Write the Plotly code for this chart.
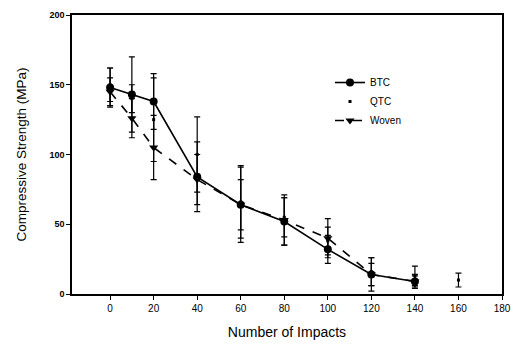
import plotly.graph_objects as go

impacts = [0, 10, 20, 40, 60, 80, 100, 120, 140]
btc = [148, 143, 138, 84, 64, 52, 32, 14, 9]
btc_err = [14, 27, 20, 25, 18, 17, 10, 8, 4]

qtc_x = [0, 10, 20, 40, 60, 80, 100, 120, 140, 160]
qtc = [150, 140, 125, 100, 66, 55, 38, 16, 13, 10]
qtc_err = [12, 10, 30, 27, 26, 14, 10, 10, 7, 5]

woven = [145, 126, 105, 82, 64, 53, 40, 14, 9]
woven_err = [10, 14, 23, 18, 27, 18, 14, 12, 5]

font = "Liberation Sans, Arial, sans-serif"

fig = go.Figure()
fig.add_trace(go.Scatter(
    x=impacts, y=btc, name="BTC", mode="lines+markers",
    line=dict(color="black", width=1.6),
    marker=dict(symbol="circle", size=8, color="black"),
    error_y=dict(type="data", array=btc_err, color="black", thickness=1.2, width=3),
))
fig.add_trace(go.Scatter(
    x=qtc_x, y=qtc, name="QTC", mode="markers",
    marker=dict(symbol="square", size=3, color="black"),
    error_y=dict(type="data", array=qtc_err, color="black", thickness=1.2, width=3),
))
fig.add_trace(go.Scatter(
    x=impacts, y=woven, name="Woven", mode="lines+markers",
    line=dict(color="black", width=1.6, dash="dash"),
    marker=dict(symbol="triangle-down", size=8, color="black"),
    error_y=dict(type="data", array=woven_err, color="black", thickness=1.2, width=3),
))

fig.update_layout(
    width=522, height=355,
    margin=dict(l=72, r=20, t=10, b=61),
    paper_bgcolor="white", plot_bgcolor="white",
    font=dict(family=font, color="black", size=10),
    showlegend=True,
    legend=dict(x=0.6, y=0.81, xanchor="left", yanchor="top",
                bgcolor="rgba(0,0,0,0)", font=dict(size=10, family=font),
                itemwidth=30, tracegroupgap=0),
    xaxis=dict(
        range=[-17.5, 180], tickvals=[0, 20, 40, 60, 80, 100, 120, 140, 160, 180],
        showgrid=False, zeroline=False, showline=True, linecolor="black", linewidth=1.5,
        mirror=True, ticks="outside", ticklen=4, tickcolor="black",
        tickfont=dict(size=10),
        title=dict(text="Number of Impacts", font=dict(size=14), standoff=14),
    ),
    yaxis=dict(
        range=[0, 200], tickvals=[0, 50, 100, 150, 200],
        ticktext=["<b>0</b>", "<b>50</b>", "<b>100</b>", "<b>150</b>", "<b>200</b>"],
        showgrid=False, zeroline=False, showline=True, linecolor="black", linewidth=1.5,
        mirror=True, ticks="outside", ticklen=4, tickcolor="black",
        tickfont=dict(size=9),
        title=dict(text="Compressive Strength (MPa)", font=dict(size=13.5), standoff=20),
    ),
)

fig.write_html("out.html")
